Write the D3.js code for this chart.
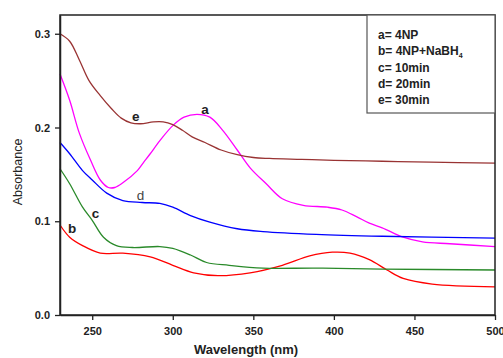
<!DOCTYPE html>
<html>
<head>
<meta charset="utf-8">
<script src="https://cdn.jsdelivr.net/npm/d3@7"></script>
<style>
  body { margin: 0; background: #fff; }
  svg { font-family: "Liberation Sans", Arial, sans-serif; }
</style>
</head>
<body>
<svg id="chart" width="503" height="358"></svg>
<script>
// spectra: [wavelength nm, absorbance]
const curveA = [[230,0.257],[236,0.229],[242,0.194],[249,0.165],[255,0.144],[260,0.136],[264,0.136],[269,0.141],[278,0.154],[282,0.163],[286,0.172],[292,0.186],[300,0.202],[307,0.211],[315,0.214],[323,0.211],[331,0.197],[340,0.176],[348,0.157],[358,0.140],[368,0.124],[381,0.117],[396,0.115],[405,0.112],[414,0.105],[422,0.098],[430,0.093],[443,0.083],[455,0.078],[472,0.076],[500,0.073]];
const curveB = [[230,0.096],[236,0.083],[244,0.074],[255,0.066],[269,0.066],[286,0.062],[300,0.053],[313,0.045],[328,0.042],[348,0.045],[368,0.053],[385,0.063],[399,0.067],[410,0.066],[422,0.059],[433,0.048],[443,0.039],[461,0.033],[500,0.030]];
const curveC = [[230,0.156],[236,0.140],[244,0.115],[250,0.101],[257,0.083],[265,0.074],[275,0.072],[292,0.073],[300,0.071],[311,0.064],[321,0.056],[335,0.053],[356,0.050],[389,0.050],[430,0.049],[500,0.048]];
const curveD = [[230,0.184],[236,0.172],[244,0.154],[250,0.144],[259,0.130],[269,0.122],[281,0.120],[292,0.119],[300,0.115],[311,0.106],[323,0.099],[340,0.092],[356,0.089],[389,0.086],[430,0.084],[500,0.082]];
const curveE = [[230,0.300],[236,0.292],[242,0.272],[248,0.250],[255,0.234],[262,0.220],[268,0.210],[274,0.205],[280,0.204],[288,0.206],[294,0.206],[300,0.203],[306,0.197],[312,0.190],[320,0.184],[330,0.176],[340,0.171],[350,0.168],[360,0.167],[380,0.166],[400,0.165],[430,0.164],[460,0.163],[500,0.162]];

const seriesColors = ["#ff00ff", "#ff0000", "#2a8a2a", "#0000ff", "#993333"];
const seriesData = [curveA, curveB, curveC, curveD, curveE];

// curve letters: [letter, wavelength, absorbance, bold]
const curveLabels = [["a",320,0.214,true],["b",237.5,0.087,true],["c",252,0.103,true],["d",280,0.123,false],["e",277,0.207,true]];

const xTicks = [250, 300, 350, 400, 450, 500];
const yTicks = [0.0, 0.1, 0.2, 0.3];

const legendLines = ["a= 4NP", "b= 4NP+NaBH", "c= 10min", "d= 20min", "e= 30min"];

const svg = d3.select("#chart");
const margin = {top: 15, right: 8, bottom: 43, left: 60};
const width = 503, height = 358;

const x = d3.scaleLinear().domain([230, 500]).range([margin.left, width - margin.right]);
const y = d3.scaleLinear().domain([0, 0.32]).range([height - margin.bottom, margin.top]);

const line = d3.line().x(d => x(d[0])).y(d => y(d[1])).curve(d3.curveCatmullRom.alpha(0.5));

seriesData.forEach((s, i) => {
    svg.append("path").datum(s).attr("fill", "none").attr("stroke", seriesColors[i]).attr("stroke-width", 1.3).attr("d", line);
});

// frame
svg.append("rect").attr("x", x(230)).attr("y", y(0.32)).attr("width", x(500) - x(230)).attr("height", y(0) - y(0.32))
    .attr("fill", "none").attr("stroke", "#222").attr("stroke-width", 1.5);

const xAxis = svg.append("g").attr("transform", `translate(0, ${y(0)})`)
    .call(d3.axisBottom(x).tickValues(xTicks).tickSize(5).tickSizeOuter(0).tickFormat(d3.format("d")));
const yAxis = svg.append("g").attr("transform", `translate(${x(230)}, 0)`)
    .call(d3.axisLeft(y).tickValues(yTicks).tickSize(5).tickSizeOuter(0).tickFormat(d3.format(".1f")));
[xAxis, yAxis].forEach(g => {
    g.select(".domain").attr("stroke", "#222").attr("stroke-width", 1.5);
    g.selectAll(".tick line").attr("stroke", "#222").attr("stroke-width", 1.3);
    g.selectAll(".tick text").attr("fill", "#222").attr("font-size", "11px").attr("font-weight", "bold")
        .attr("font-family", "Liberation Sans, Arial, sans-serif");
});
xAxis.selectAll(".tick text").attr("dy", "1.1em");
yAxis.selectAll(".tick text").attr("dx", "-2");

svg.append("text").attr("x", 246).attr("y", 354).attr("text-anchor", "middle").attr("font-size", "13px")
    .attr("font-weight", "bold").attr("fill", "#222").text("Wavelength (nm)");
svg.append("text").attr("transform", "rotate(-90)").attr("x", -172).attr("y", 22).attr("text-anchor", "middle")
    .attr("font-size", "12.5px").attr("fill", "#222").text("Absorbance");

curveLabels.forEach(l => {
    svg.append("text").attr("x", x(l[1])).attr("y", y(l[2])).attr("text-anchor", "middle")
        .attr("font-size", "13.5px").attr("font-weight", l[3] ? "bold" : "normal").attr("fill", l[3] ? "#222" : "#444").text(l[0]);
});

// legend box
svg.append("rect").attr("x", 367).attr("y", y(0.32)).attr("width", x(500) - 367).attr("height", 98)
    .attr("fill", "#fff").attr("stroke", "#555").attr("stroke-width", 1.2);
legendLines.forEach((t, i) => {
    const txt = svg.append("text").attr("x", 378).attr("y", 39 + i * 16.3).attr("font-size", "12px")
        .attr("font-weight", "bold").attr("fill", "#222").text(t);
    if (i === 1) txt.append("tspan").attr("font-size", "7px").attr("dy", "3").text("4");
});
</script>
</body>
</html>
